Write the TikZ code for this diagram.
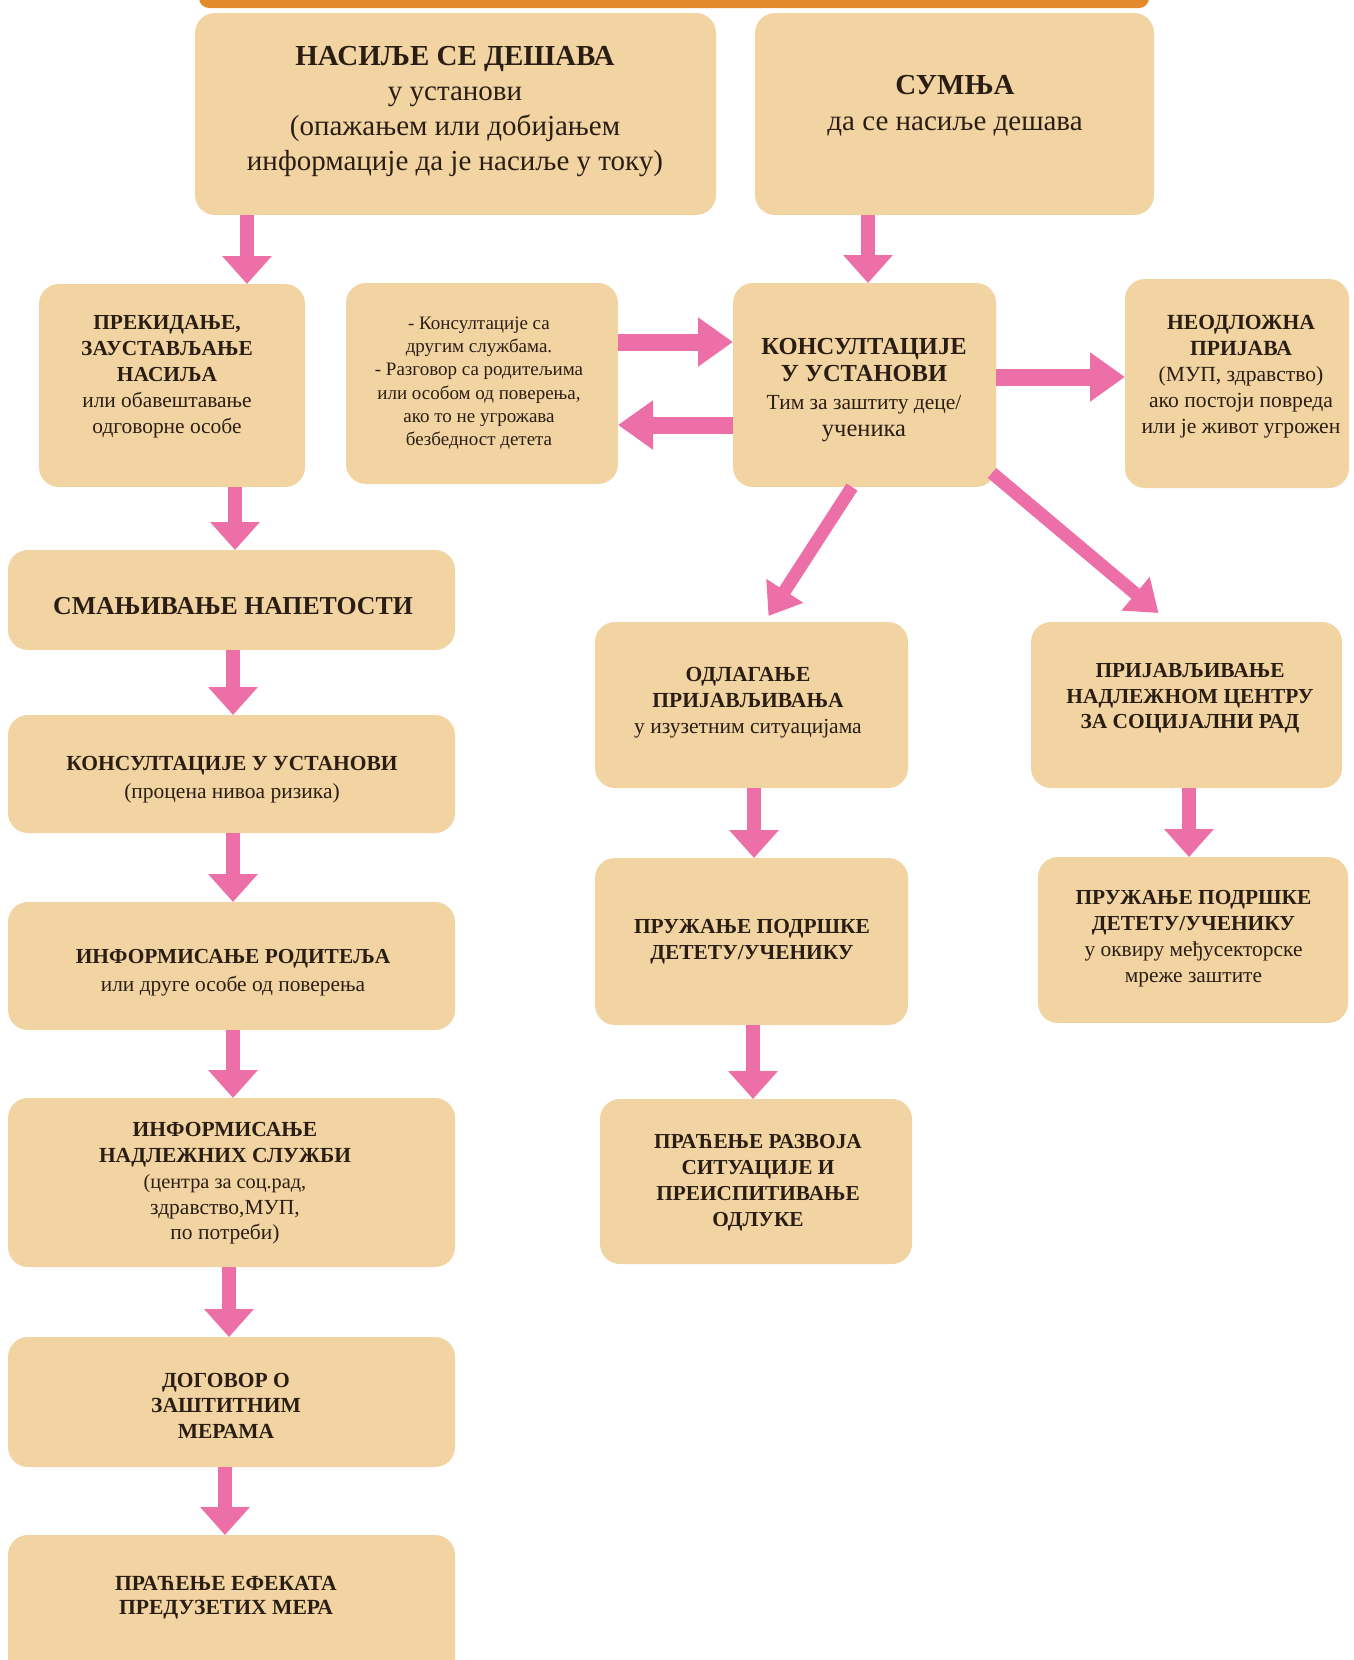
\documentclass[tikz,border=0pt]{standalone}
\usepackage{fontspec}
\setmainfont{Liberation Serif}
\usetikzlibrary{arrows.meta}
\definecolor{boxfill}{HTML}{F2D4A3}
\definecolor{arrpink}{HTML}{EC6FA8}
\definecolor{barorange}{HTML}{E38A2C}
\definecolor{txtcol}{HTML}{2A1E14}
\newcommand{\fs}[2]{\fontsize{#1}{#2}\selectfont}
\begin{document}
\begin{tikzpicture}[x=1pt,y=-1pt,
  box/.style={fill=boxfill, draw=none, rounded corners=20pt, inner sep=0pt, outer sep=0pt},
  txt/.style={align=center, text=txtcol, inner sep=0pt},
  varr/.style={draw=arrpink, line width=14pt, -{Triangle[width=48pt,length=28pt]}},
  harr/.style={draw=arrpink, line width=17pt, -{Triangle[width=47pt,length=35pt]}},
  darr/.style={draw=arrpink, line width=13pt, -{Triangle[width=42pt,length=30pt]}}]
\useasboundingbox (0,0) rectangle (1353,1660);
\clip (0,0) rectangle (1353,1660);
\fill[white] (0,0) rectangle (1353,1660);
% top orange bar
\fill[barorange, rounded corners=10pt] (199,-40) rectangle (1149,8);
% boxes
\node[box, minimum width=521pt, minimum height=202pt] (a) at (455.5,114) {};
\node[box, minimum width=399pt, minimum height=202pt] (b) at (954.5,114) {};
\node[box, minimum width=266pt, minimum height=203pt] (c) at (172,385.5) {};
\node[box, minimum width=272pt, minimum height=201pt] (d) at (482,383.5) {};
\node[box, minimum width=263pt, minimum height=204pt] (e) at (864.5,385) {};
\node[box, minimum width=224pt, minimum height=209pt] (f) at (1237,383.5) {};
\node[box, minimum width=447pt, minimum height=100pt] (g) at (231.5,600) {};
\node[box, minimum width=447pt, minimum height=118pt] (h) at (231.5,774) {};
\node[box, minimum width=447pt, minimum height=128pt] (i) at (231.5,966) {};
\node[box, minimum width=447pt, minimum height=169pt] (j) at (231.5,1182.5) {};
\node[box, minimum width=447pt, minimum height=130pt] (k) at (231.5,1402) {};
\node[box, minimum width=447pt, minimum height=165pt] (l) at (231.5,1617.5) {};
\node[box, minimum width=313pt, minimum height=166pt] (m) at (751.5,705) {};
\node[box, minimum width=311pt, minimum height=166pt] (n) at (1186.5,705) {};
\node[box, minimum width=313pt, minimum height=167pt] (o) at (751.5,941.5) {};
\node[box, minimum width=310pt, minimum height=166pt] (p) at (1193,940) {};
\node[box, minimum width=312pt, minimum height=165pt] (q) at (756,1181.5) {};
% texts
\node[txt, font=\fs{29}{35}] (ta) at (455,111.5) {\textbf{НАСИЉЕ СЕ ДЕШАВА}\\у установи\\(опажањем или добијањем\\информације да је насиље у току)};
\node[txt, font=\fs{29}{36}] (tb) at (955,106) {\textbf{СУМЊА}\\да се насиље дешава};
\node[txt, font=\fs{21.4}{26}] (tc) at (167,376.5) {\textbf{ПРЕКИДАЊЕ,}\\\textbf{ЗАУСТАВЉАЊЕ}\\\textbf{НАСИЉА}\\или обавештавање\\одговорне особе};
\node[txt, font=\fs{19}{23.2}] (td) at (479,383) {- Консултације са\\другим службама.\\- Разговор са родитељима\\или особом од поверења,\\ако то не угрожава\\безбедност детета};
\node[txt, font=\fs{24.5}{27.3}] (te) at (864,390) {\textbf{КОНСУЛТАЦИЈЕ}\\\textbf{У УСТАНОВИ}\\\fs{21.5}{27.3}Тим за заштиту деце/\\ученика};
\node[txt, font=\fs{21.6}{26}] (tf) at (1241,377) {\textbf{НЕОДЛОЖНА}\\\textbf{ПРИЈАВА}\\(МУП, здравство)\\ако постоји повреда\\или је живот угрожен};
\node[txt, font=\fs{25.8}{28}] (tg) at (233,606) {\textbf{СМАЊИВАЊЕ НАПЕТОСТИ}};
\node[txt, font=\fs{21.5}{28}] (th) at (232,780) {\textbf{КОНСУЛТАЦИЈЕ У УСТАНОВИ}\\(процена нивоа ризика)};
\node[txt, font=\fs{21.4}{28}] (ti) at (233,973) {\textbf{ИНФОРМИСАЊЕ РОДИТЕЉА}\\или друге особе од поверења};
\node[txt, font=\fs{21.5}{25.75}] (tj) at (225,1183.5) {\textbf{ИНФОРМИСАЊЕ}\\\textbf{НАДЛЕЖНИХ СЛУЖБИ}\\\fs{20.3}{25.75}(центра за соц.рад,\\здравство,МУП,\\по потреби)};
\node[txt, font=\fs{21.5}{25.5}] (tk) at (226,1405.5) {\textbf{ДОГОВОР О}\\\textbf{ЗАШТИТНИМ}\\\textbf{МЕРАМА}};
\node[txt, font=\fs{21.6}{24}] (tl) at (226,1598) {\textbf{ПРАЋЕЊЕ ЕФЕКАТА}\\\textbf{ПРЕДУЗЕТИХ МЕРА}};
\node[txt, font=\fs{21.5}{26}] (tm) at (748,703) {\textbf{ОДЛАГАЊЕ}\\\textbf{ПРИЈАВЉИВАЊА}\\у изузетним ситуацијама};
\node[txt, font=\fs{21.4}{25.5}] (tn) at (1190,698.5) {\textbf{ПРИЈАВЉИВАЊЕ}\\\textbf{НАДЛЕЖНОМ ЦЕНТРУ}\\\textbf{ЗА СОЦИЈАЛНИ РАД}};
\node[txt, font=\fs{21.4}{26}] (to) at (752,942) {\textbf{ПРУЖАЊЕ ПОДРШКЕ}\\\textbf{ДЕТЕТУ/УЧЕНИКУ}};
\node[txt, font=\fs{21.4}{26}] (tp) at (1193.5,939) {\textbf{ПРУЖАЊЕ ПОДРШКЕ}\\\textbf{ДЕТЕТУ/УЧЕНИКУ}\\у оквиру међусекторске\\мреже заштите};
\node[txt, font=\fs{21.3}{26}] (tq) at (758,1183) {\textbf{ПРАЋЕЊЕ РАЗВОЈА}\\\textbf{СИТУАЦИЈЕ И}\\\textbf{ПРЕИСПИТИВАЊЕ}\\\textbf{ОДЛУКЕ}};
% arrows
\draw[varr] (a.south -| 247,0) -- (c.north -| 247,0);
\draw[varr] (b.south -| 868,0) -- (e.north -| 868,0);
\draw[harr] (d.east |- 0,342) -- (e.west |- 0,342);
\draw[harr] (e.west |- 0,425) -- (d.east |- 0,425);
\draw[harr] (e.east |- 0,377) -- (f.west |- 0,377);
\draw[darr] (e.south -| 852,0) -- ([shift={(17,-6)}]m.north);
\draw[darr] ([shift={(-4,-14)}]e.south east) -- ([shift={(-28,-9)}]n.north);
\draw[varr] (c.south -| 235,0) -- (g.north -| 235,0);
\draw[varr] (g.south -| 233,0) -- (h.north -| 233,0);
\draw[varr] (h.south -| 233,0) -- (i.north -| 233,0);
\draw[varr] (i.south -| 233,0) -- (j.north -| 233,0);
\draw[varr] (j.south -| 229,0) -- (k.north -| 229,0);
\draw[varr] (k.south -| 225,0) -- (l.north -| 225,0);
\draw[varr] (m.south -| 754,0) -- (o.north -| 754,0);
\draw[varr] (o.south -| 753,0) -- (q.north -| 753,0);
\draw[varr] (n.south -| 1189,0) -- (p.north -| 1189,0);
\end{tikzpicture}
\end{document}
